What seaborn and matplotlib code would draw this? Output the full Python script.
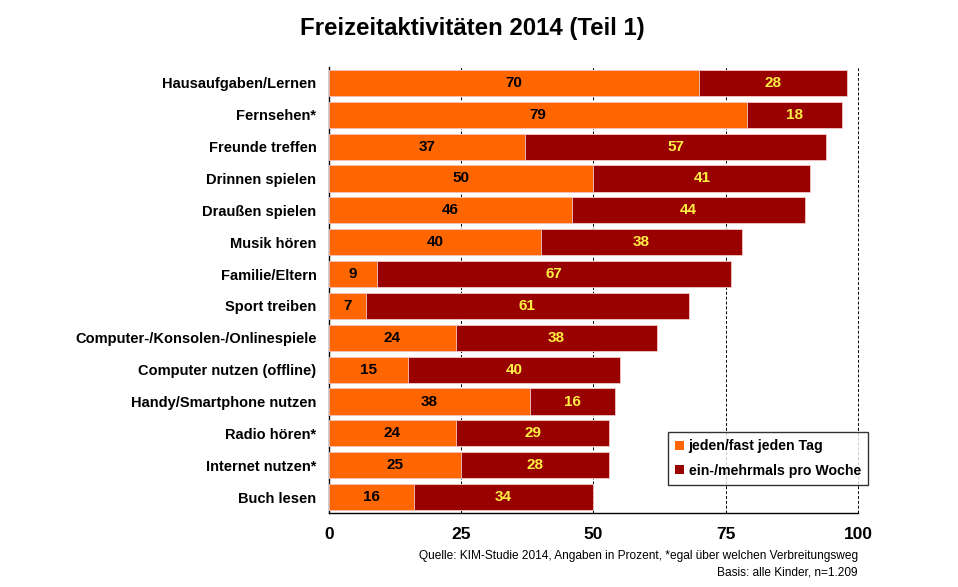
import numpy as np
import pandas as pd
import matplotlib
matplotlib.use("Agg")
import matplotlib.pyplot as plt
import seaborn as sns
from matplotlib.patches import Patch

sns.set_theme(style="white")
plt.rcParams["font.family"] = ["Liberation Sans", "DejaVu Sans"]
plt.rcParams["text.color"] = "black"
plt.rcParams["xtick.color"] = "black"
plt.rcParams["ytick.color"] = "black"

# Daten
aktivitaeten = [
    "Hausaufgaben/Lernen", "Fernsehen*", "Freunde treffen", "Drinnen spielen",
    "Draußen spielen", "Musik hören", "Familie/Eltern", "Sport treiben",
    "Computer-/Konsolen-/Onlinespiele", "Computer nutzen (offline)",
    "Handy/Smartphone nutzen", "Radio hören*", "Internet nutzen*", "Buch lesen",
]
taeglich = [70, 79, 37, 50, 46, 40, 9, 7, 24, 15, 38, 24, 25, 16]
woechentlich = [28, 18, 57, 41, 44, 38, 67, 61, 38, 40, 16, 29, 28, 34]
x_ticks = [0, 25, 50, 75, 100]

orange = "#FF6600"
rot = "#990000"

df = pd.DataFrame({
    "Aktivität": aktivitaeten,
    "täglich": taeglich,
    "wöchentlich": woechentlich,
})
df["gesamt"] = df["täglich"] + df["wöchentlich"]

fig = plt.figure(figsize=(9.58, 5.87), dpi=100)
ax = fig.add_axes([0.3434, 0.126, 0.5522, 0.760])

# gestapelte Balken: erst Summe (rot), dann täglich (orange) darüber
sns.barplot(data=df, x="gesamt", y="Aktivität", color=rot, saturation=1, width=0.82,
            edgecolor="#f4c8c8", linewidth=0.6, ax=ax, zorder=2)
sns.barplot(data=df, x="täglich", y="Aktivität", color=orange, saturation=1, width=0.82,
            edgecolor="#f4c8c8", linewidth=0.6, ax=ax, zorder=3)

# Beschriftungen
for i, row in df.iterrows():
    ax.text(row["täglich"] / 2, i, str(row["täglich"]), ha="center", va="center",
            fontsize=11, fontweight="bold", color="black", zorder=4)
    ax.text(row["täglich"] + row["wöchentlich"] / 2, i, str(row["wöchentlich"]),
            ha="center", va="center", fontsize=11, fontweight="bold",
            color="#FFEE44", zorder=4)

ax.set_xlim(0, 100)
ax.set_ylim(len(aktivitaeten) - 0.5, -0.5)
ax.set_xticks(x_ticks)
ax.set_xticklabels([str(t) for t in x_ticks], fontsize=12.5, fontweight="bold")
ax.set_yticks(range(len(aktivitaeten)))
ax.set_yticklabels(aktivitaeten, fontsize=10.5, fontweight="bold")
ax.set_yticks(np.arange(-0.5, len(aktivitaeten), 1), minor=True)
ax.tick_params(axis="y", which="major", length=0, pad=9)
ax.tick_params(axis="y", which="minor", length=4, color="black", direction="out", width=0.8)
ax.tick_params(axis="x", length=4, color="black", direction="out", width=0.8, pad=6)
ax.set_xlabel("")
ax.set_ylabel("")

for t in x_ticks[1:]:
    ax.axvline(t, color="black", linestyle=(0, (3, 2)), linewidth=0.7, zorder=1, clip_on=False)

for s in ["top", "right"]:
    ax.spines[s].set_visible(False)
for s in ["left", "bottom"]:
    ax.spines[s].set_color("black")
    ax.spines[s].set_linewidth(1.0)

handles = [Patch(facecolor=orange, edgecolor="none", label="jeden/fast jeden Tag"),
           Patch(facecolor=rot, edgecolor="none", label="ein-/mehrmals pro Woche")]
leg = ax.legend(handles=handles, loc="lower left", bbox_to_anchor=(0.641, 0.063, 0.378, 0.116),
                mode="expand", frameon=True, fancybox=False, handlelength=0.6,
                handleheight=0.6, handletextpad=0.35, borderpad=0.5, borderaxespad=0,
                labelspacing=0.75, prop={"weight": "bold", "size": 10.2})
leg.get_frame().set_edgecolor("black")
leg.get_frame().set_linewidth(1.0)
leg.set_zorder(5)

fig.text(0.493, 0.952, "Freizeitaktivitäten 2014 (Teil 1)", ha="center", va="center",
         fontsize=17.3, fontweight="bold")
fig.text(0.8956, 0.052, "Quelle: KIM-Studie 2014, Angaben in Prozent, *egal über welchen Verbreitungsweg",
         ha="right", va="center", fontsize=8.6)
fig.text(0.8956, 0.024, "Basis: alle Kinder, n=1.209", ha="right", va="center", fontsize=8.6)

fig.savefig("out.png", dpi=100)
